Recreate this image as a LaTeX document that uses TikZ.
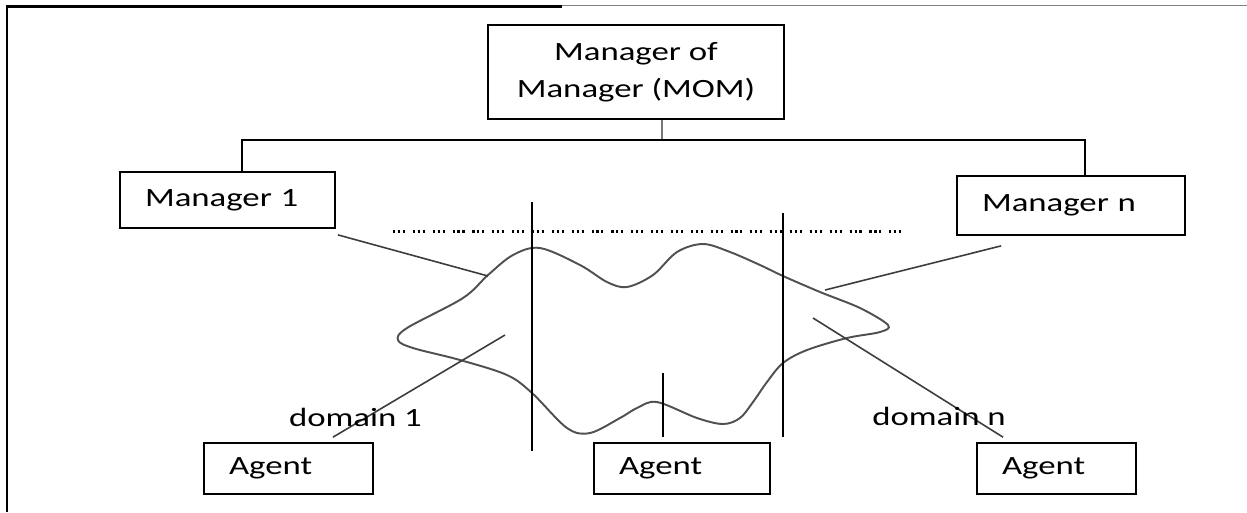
\documentclass[tikz,border=0pt]{standalone}
\usepackage{fontspec}
\usetikzlibrary{calc}
\setmainfont[FakeStretch=1.32]{Carlito}
\definecolor{linkgray}{RGB}{60,60,60}
\definecolor{cloudgray}{RGB}{80,80,80}
\definecolor{stemgray}{RGB}{120,120,120}
\begin{document}
\begin{tikzpicture}[x=0.02cm, y=-0.02cm,
  every node/.style={font=\fontsize{15}{21}\selectfont},
  box/.style={draw=black, line width=1pt, rectangle, inner ysep=0pt, inner xsep=0.5cm, align=left},
  tree/.style={black, line width=1pt},
  stemline/.style={stemgray, line width=1.5pt},
  divider/.style={black, line width=1.1pt},
  link/.style={linkgray, line width=0.9pt},
  cloud/.style={cloudgray, line width=1.1pt},
  dotrow/.style={black, line width=1.4pt,
    dash pattern=on 1.2pt off 1.6pt on 1.2pt off 1.6pt on 1.2pt off 4.5pt},
  label/.style={anchor=base, inner sep=0pt}
]
\useasboundingbox (0,0) rectangle (1247,512);

% outer frame: heavy top-left edge, faint continuation, left side
\draw[black, line width=1.4pt] (6,6.5) -- (562,6.5);
\draw[gray, line width=0.6pt] (562,5.5) -- (1247,5.5);
\draw[black, line width=1.1pt] (7.3,6) -- (7.3,512);

% boxes
\node[box, align=center, inner xsep=0pt, minimum width=5.92cm, minimum height=1.88cm] (mom) at (636,72) {Manager of\\Manager (MOM)};
\node[box, text width=3.3cm, minimum height=1.12cm] (m1) at (227.5,200) {Manager 1};
\node[box, text width=3.56cm, minimum height=1.18cm] (mn) at (1071,205.5) {Manager n};
\node[box, text width=2.38cm, minimum height=1.02cm] (ag1) at (288.5,468.5) {Agent};
\node[box, text width=2.52cm, minimum height=1.02cm] (ag2) at (682,468.5) {Agent};
\node[box, text width=2.18cm, minimum height=1.02cm] (ag3) at (1056.5,468.5) {Agent};

% hierarchy bus
\coordinate (bus) at (662,140);
\coordinate (busL) at (242,140);
\coordinate (busR) at (1085,140);
\draw[stemline] (mom.south -| bus) -- (bus);
\draw[tree] (busL |- m1.north) -- (busL) -- (busR) -- (busR |- mn.north);

% dotted row between the managers
\coordinate (dotsL) at (393,231.5);
\coordinate (dotsR) at (905,231.5);
\draw[dotrow] (dotsL) -- (dotsR);

% domain cloud
\draw[cloud] plot[smooth cycle, tension=0.55] coordinates {
  (540,248) (580,265) (607,282) (627,287) (653,275) (677,252) (703,244)
  (730,252) (760,265) (783,276) (820,292) (860,308) (888,325) (880,332)
  (847,338) (807,350) (783,363) (767,382) (753,402) (740,418) (723,424)
  (697,418) (657,402) (637,408) (620,418) (590,433) (567,428) (532,393)
  (507,375) (460,360) (413,348) (398,340) (407,328) (463,298) (488,275)
  (513,255)};

% vertical dividers
\coordinate (vA1) at (532,202); \coordinate (vA2) at (532,451);
\coordinate (vB1) at (783,213); \coordinate (vB2) at (783,437);
\coordinate (vM1) at (663,373); \coordinate (vM2) at (663,437);
\draw[divider] (vA1) -- (vA2);
\draw[divider] (vB1) -- (vB2);
\draw[divider] (vM1) -- (vM2);

% manager and agent links into the cloud
\coordinate (m1end) at (488,276);
\coordinate (mnend) at (825,290);
\coordinate (d1end) at (505,335);
\coordinate (dnend) at (813,318);
\draw[link] ($(m1.south east)+(2,6)$) -- (m1end);
\draw[link] ($(mn.south west)+(45,10)$) -- (mnend);
\draw[link] ($(ag1.north)+(44.5,-5)$) -- (d1end);
\draw[link] ($(ag3.north)+(-53.5,-5)$) -- (dnend);

% domain labels
\node[label] (dom1) at (355.5,426) {domain 1};
\node[label] (domn) at (939,425) {domain n};
\end{tikzpicture}
\end{document}
